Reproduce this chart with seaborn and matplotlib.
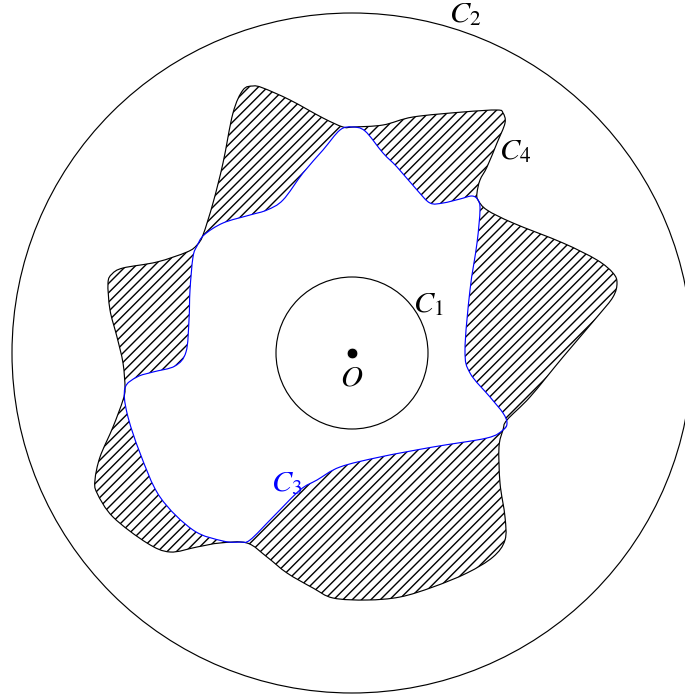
import numpy as np
import matplotlib
matplotlib.use("Agg")
import matplotlib.pyplot as plt
import seaborn as sns
from matplotlib.path import Path
from matplotlib.patches import PathPatch, Circle

sns.set_style("white")
plt.rcParams["mathtext.fontset"] = "stix"
plt.rcParams["hatch.linewidth"] = 1.2

# geometry (picture coordinates, y pointing down)
origin = (352, 353)
r_c1 = 76
r_c2 = 340

# inner curve C3 (blue)
c3_x = [125, 137, 153, 175, 186, 189, 190, 193, 197, 204, 223, 250, 267, 283, 303,
        323, 340, 352, 365, 383, 397, 417, 430, 443, 460, 472, 478, 480, 477, 470,
        465, 470, 490, 503, 507, 503, 487, 433, 380, 340, 317, 300, 273, 250, 240,
        223, 193, 160, 140, 127]
c3_y = [388, 377, 372, 366, 352, 320, 290, 257, 246, 235, 223, 215, 210, 200, 173,
        150, 130, 127, 131, 153, 167, 190, 203, 203, 199, 196, 200, 210, 243, 290,
        350, 373, 397, 413, 423, 430, 438, 447, 457, 467, 480, 490, 517, 540, 542,
        541, 530, 497, 453, 413]

# outer curve C4 (black)
c4_x = [125, 123, 117, 110, 108, 112, 123, 157, 187, 197, 203, 213, 223, 233, 243,
        253, 263, 290, 323, 343, 353, 383, 413, 463, 497, 503, 505, 497, 487, 480,
        477, 478, 487, 513, 563, 597, 613, 617, 613, 597, 563, 530, 507, 503, 499,
        500, 505, 505, 493, 467, 433, 400, 367, 333, 313, 287, 267, 247, 220, 197,
        170, 147, 113, 97, 95, 100, 113, 123]
c4_y = [388, 363, 337, 310, 283, 274, 268, 262, 252, 245, 235, 203, 163, 113, 90,
        86, 88, 100, 118, 127, 127, 125, 117, 112, 110, 113, 123, 143, 167, 180,
        193, 200, 210, 223, 243, 260, 273, 283, 297, 317, 357, 397, 420, 430, 447,
        483, 517, 540, 557, 573, 587, 597, 600, 598, 588, 573, 557, 543, 543, 547,
        552, 543, 517, 493, 480, 457, 427, 400]

labels = [r"$C_1$", r"$C_2$", r"$C_3$", r"$C_4$", r"$O$"]
label_pos = [(428, 304), (465, 14), (287, 483), (515, 151), (352, 377)]
label_col = ["black", "black", "blue", "black", "black"]


def smooth_closed(xs, ys):
    """closed Catmull-Rom curve written as cubic Bezier segments"""
    p = np.column_stack([xs, ys]).astype(float)
    n = len(p)
    verts = [p[0]]
    codes = [Path.MOVETO]
    for i in range(n):
        p0, p1, p2, p3 = p[i - 1], p[i], p[(i + 1) % n], p[(i + 2) % n]
        verts += [p1 + (p2 - p0) / 6, p2 - (p3 - p1) / 6, p2]
        codes += [Path.CURVE4] * 3
    return verts, codes


v4, k4 = smooth_closed(c4_x, c4_y)
v3, k3 = smooth_closed(c3_x, c3_y)
v3r, k3r = smooth_closed(c3_x[::-1], c3_y[::-1])

dpi = 84
fig = plt.figure(figsize=(685 / dpi, 700 / dpi), dpi=dpi)
ax = fig.add_axes([0, 0, 1, 1])

# hatched ring between C4 and C3
ring = Path(np.array(v4 + v3r), k4 + k3r)
ax.add_patch(PathPatch(ring, facecolor="none", edgecolor="black", lw=0, hatch="///"))

ax.add_patch(PathPatch(Path(np.array(v4), k4), facecolor="none", edgecolor="black", lw=1.0))
ax.add_patch(PathPatch(Path(np.array(v3), k3), facecolor="none", edgecolor="blue", lw=1.0))

ax.add_patch(Circle(origin, r_c1, fill=False, ec="black", lw=1.0))
ax.add_patch(Circle(origin, r_c2, fill=False, ec="black", lw=1.0))

sns.scatterplot(x=[origin[0]], y=[origin[1]], color="black", s=85, ax=ax, zorder=5)

for txt, (tx, ty), col in zip(labels, label_pos, label_col):
    ax.text(tx, ty, txt, color=col, fontsize=26, ha="center", va="center")

ax.set_xlim(0, 685)
ax.set_ylim(700, 0)
ax.axis("off")

fig.savefig("out.png", dpi=dpi)
